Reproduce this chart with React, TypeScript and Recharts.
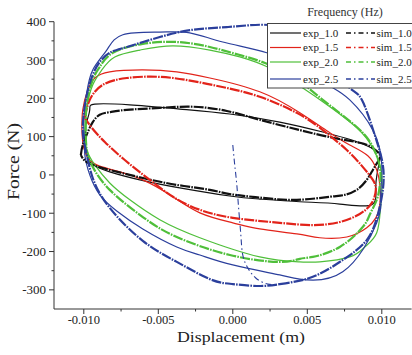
import React from "react";
import { ComposedChart, Line, XAxis, YAxis } from "recharts";

/** Loops: [displacement (m), force (N)] */
type Pt = [number, number];

const exp10: Pt[] = [
  [-0.00987, 131], [-0.0096, 170], [-0.00926, 185], [-0.00691, 183], [-0.00356, 172],
  [-0.0002, 159], [0.00315, 138], [0.00604, 112], [0.00852, 84], [0.00973, 60],
  [0.00987, 39], [0.0096, -26], [0.00933, -78], [0.00718, -76], [0.0045, -70],
  [0.00181, -63], [-0.0002, -55], [-0.00356, -34], [-0.00624, -13], [-0.00826, 8],
  [-0.00946, 29], [-0.00987, 65], [-0.00987, 131],
];
const sim10: Pt[] = [
  [-0.0102, 52], [-0.01007, 78], [-0.00973, 112], [-0.0094, 138], [-0.00893, 157],
  [-0.00826, 164], [-0.00711, 170], [-0.0049, 175], [-0.00268, 178], [-0.0004, 167],
  [0.00181, 144], [0.0045, 117], [0.00671, 97], [0.00852, 84], [0.0094, 70],
  [0.00987, 52], [0.00973, 34], [0.0094, 13], [0.00899, -13], [0.00832, -39],
  [0.00752, -52], [0.00651, -57], [0.0043, -65], [0.00201, -60], [-0.0002, -50],
  [-0.00154, -39], [-0.00376, -26], [-0.00604, -8], [-0.00826, 13], [-0.0094, 26],
  [-0.00993, 37], [-0.0102, 52],
];
const exp15: Pt[] = [
  [-0.01013, 117], [-0.01007, 170], [-0.00973, 222], [-0.00926, 253], [-0.00826, 269],
  [-0.00604, 274], [-0.00376, 269], [-0.00154, 253], [0.00181, 217], [0.0045, 162],
  [0.00651, 110], [0.00785, 78], [0.00906, 50], [0.00966, 13], [0.00987, -26],
  [0.00987, -78], [0.0096, -112], [0.00899, -138], [0.00765, -162], [0.00584, -164],
  [0.0043, -154], [0.00181, -141], [0, -125], [-0.00221, -99], [-0.00423, -52],
  [-0.00604, -13], [-0.00758, 8], [-0.00893, 23], [-0.0096, 39], [-0.01, 70],
  [-0.01013, 117],
];
const sim15: Pt[] = [
  [-0.00993, 149], [-0.0096, 196], [-0.00873, 235], [-0.00711, 253], [-0.0049, 256],
  [-0.00268, 245], [-0.0004, 227], [0.00181, 204], [0.0043, 162], [0.00604, 117],
  [0.00765, 65], [0.00872, 21], [0.0094, -13], [0.0096, -39], [0.00933, -73],
  [0.00852, -102], [0.00718, -123], [0.00537, -131], [0.00315, -125], [0, -112],
  [-0.00221, -91], [-0.00389, -60], [-0.00557, -13], [-0.00725, 39], [-0.00859, 86],
  [-0.00946, 123], [-0.00993, 149],
];
const exp20: Pt[] = [
  [-0.00993, 104], [-0.0098, 175], [-0.0094, 235], [-0.00879, 274], [-0.00792, 308],
  [-0.00624, 326], [-0.00403, 337], [-0.00154, 326], [0.00047, 308], [0.00248, 279],
  [0.0045, 232], [0.00651, 178], [0.00832, 123], [0.0094, 70], [0.01, 0],
  [0.00993, -78], [0.00966, -151], [0.00886, -188], [0.00785, -214], [0.00584, -227],
  [0.0045, -227], [0.00181, -214], [-0.00221, -164], [-0.0049, -117], [-0.00691, -65],
  [-0.00826, -21], [-0.00926, 26], [-0.0098, 65], [-0.00993, 104],
];
const sim20: Pt[] = [
  [-0.00987, 117], [-0.0098, 183], [-0.0094, 248], [-0.00893, 282], [-0.00805, 319],
  [-0.00604, 342], [-0.00376, 347], [-0.00154, 334], [0.00047, 313], [0.00248, 287],
  [0.0045, 243], [0.00604, 196], [0.00832, 125], [0.0094, 73], [0.00987, 21],
  [0.00987, -26], [0.00966, -65], [0.00919, -104], [0.00872, -136], [0.00718, -188],
  [0.00537, -214], [0.0045, -219], [0.00315, -227], [-0.0002, -209], [-0.00376, -162],
  [-0.00604, -110], [-0.00826, -39], [-0.0094, 21], [-0.0098, 65], [-0.00987, 117],
];
const exp25: Pt[] = [
  [-0.00993, 91], [-0.01, 144], [-0.0098, 214], [-0.0094, 274], [-0.00846, 326],
  [-0.00738, 366], [-0.0049, 373], [-0.00289, 371], [-0.00067, 347], [0.00228, 319],
  [0.0045, 279], [0.00651, 232], [0.00785, 196], [0.0094, 117], [0.01, 26],
  [0.00993, -52], [0.00966, -125], [0.00738, -253], [0.0045, -272], [0.00315, -261],
  [0, -235], [-0.00221, -209], [-0.00376, -188], [-0.00604, -141], [-0.00779, -94],
  [-0.00893, -52], [-0.0096, 0], [-0.00993, 52], [-0.00993, 91],
];
// start-up transient of the 2.5 Hz simulation, then its steady loop
const sim25Start: Pt[] = [
  [0, 78], [0.00013, 26], [0.00027, -26], [0.0004, -91], [0.00054, -157],
  [0.00067, -209], [0.00101, -243], [0.00154, -269], [0.00235, -285], [0.00315, -285],
];
const sim25: Pt[] = [
  [0.00315, -285], [0.00537, -266], [0.00738, -222], [0.00899, -170], [0.00973, -104],
  [0.01007, -39], [0.01007, 26], [0.00953, 104], [0.00866, 196], [0.00785, 227],
  [0.00651, 287], [0.00483, 352], [0.00349, 384], [0.00181, 392], [-0.0004, 386],
  [-0.00268, 379], [-0.0049, 360], [-0.00711, 334], [-0.00826, 319], [-0.00893, 295],
  [-0.0094, 261], [-0.00987, 196], [-0.01007, 117], [-0.00987, 65], [-0.0094, -8],
  [-0.00826, -86], [-0.00604, -172], [-0.00376, -227], [-0.00154, -272], [0, -285],
  [0.00181, -290], [0.00315, -285],
];

const FREQS = ["1.0", "1.5", "2.0", "2.5"];
const COLORS = ["#111111", "#e2231a", "#4fbf3a", "#2b3f9c"];
const EXP = [exp10, exp15, exp20, exp25];
const SIM = [sim10, sim15, sim20, sim25];

const X_TICKS = [-0.01, -0.0075, -0.005, -0.0025, 0, 0.0025, 0.005, 0.0075, 0.01];
const Y_TICKS = [-300, -250, -200, -150, -100, -50, 0, 50, 100, 150, 200, 250, 300, 350, 400];

const SERIF = "'Liberation Serif', 'Times New Roman', serif";
const AX = "#333";
const SIM_DASH = "10 1.2 1.6 1.2";

const rows = (pts: Pt[]) => pts.map(([x, f]) => ({ x, f }));

function YTick(props: any) {
  const { x, y, payload } = props;
  const v = payload.value as number;
  const major = v % 100 === 0;
  return (
    <g>
      <line x1={x} x2={x - (major ? 5 : 2.5)} y1={y} y2={y} stroke={AX} />
      {major && (
        <text x={x - 8} y={y} dy="0.35em" textAnchor="end" fontSize={13} fontFamily={SERIF} fill="#222">
          {v}
        </text>
      )}
    </g>
  );
}

function XTick(props: any) {
  const { x, y, payload } = props;
  const v = payload.value as number;
  const major = Math.abs(v * 200 - Math.round(v * 200)) < 1e-6;
  return (
    <g>
      <line x1={x} x2={x} y1={y} y2={y + (major ? 5 : 2.5)} stroke={AX} />
      {major && (
        <text x={x} y={y + 15} textAnchor="middle" fontSize={12.5} fontFamily={SERIF} fill="#222">
          {v.toFixed(3)}
        </text>
      )}
    </g>
  );
}

const LEG_Y = [33, 47.5, 62, 79];

export default function App() {
  return (
    <div style={{ position: "absolute", left: 0, top: 0, width: 412, height: 355, background: "#fff" }}>
      <ComposedChart width={412} height={355} margin={{ top: 21.7, right: 0.4, bottom: 0, left: 0 }}>
        <XAxis
          dataKey="x"
          type="number"
          domain={[-0.012, 0.012]}
          ticks={X_TICKS}
          interval={0}
          allowDataOverflow
          height={46}
          tickSize={0}
          tickMargin={0}
          tickLine={false}
          axisLine={{ stroke: AX }}
          tick={XTick}
        />
        <YAxis
          type="number"
          domain={[-350, 400]}
          ticks={Y_TICKS}
          interval={0}
          allowDataOverflow
          width={54}
          tickSize={0}
          tickMargin={0}
          tickLine={false}
          axisLine={{ stroke: AX }}
          tick={YTick}
        />
        {EXP.map((pts, i) => (
          <Line
            key={"exp" + i}
            data={rows(pts)}
            dataKey="f"
            type="natural"
            stroke={COLORS[i]}
            strokeWidth={1.2}
            dot={false}
            isAnimationActive={false}
          />
        ))}
        {SIM.map((pts, i) => (
          <Line
            key={"sim" + i}
            data={rows(pts)}
            dataKey="f"
            type="natural"
            stroke={COLORS[i]}
            strokeWidth={2.2}
            strokeDasharray={SIM_DASH}
            dot={false}
            isAnimationActive={false}
          />
        ))}
        <Line
          data={rows(sim25Start)}
          dataKey="f"
          type="natural"
          stroke={COLORS[3]}
          strokeWidth={1.1}
          strokeDasharray="6 3 1.5 3"
          dot={false}
          isAnimationActive={false}
        />
      </ComposedChart>

      {/* axis titles + legend */}
      <svg width={412} height={355} style={{ position: "absolute", left: 0, top: 0, pointerEvents: "none" }}>
        <text x={241} y={341.5} textAnchor="middle" fontSize={15} fontFamily={SERIF} fill="#222" textLength={128} lengthAdjust="spacingAndGlyphs">
          Displacement (m)
        </text>
        <text
          transform="translate(18.5,161.5) rotate(-90)"
          textAnchor="middle"
          fontSize={16}
          fontFamily={SERIF}
          fill="#222"
          textLength={77}
          lengthAdjust="spacingAndGlyphs"
        >
          Force  (N)
        </text>
        <text x={345} y={15.5} textAnchor="middle" fontSize={12} fontFamily={SERIF} fill="#333">
          Frequency  (Hz)
        </text>
        <rect x={267.5} y={23.5} width={150} height={64.5} fill="#fff" stroke="#444" />
        {FREQS.map((f, i) => (
          <g key={f}>
            <line x1={270} x2={301} y1={LEG_Y[i]} y2={LEG_Y[i]} stroke={COLORS[i]} strokeWidth={1.2} />
            <text x={303} y={LEG_Y[i]} dy="0.35em" fontSize={11} fontFamily={SERIF} fill="#222">
              {"exp_" + f}
            </text>
            <line x1={346} x2={375} y1={LEG_Y[i]} y2={LEG_Y[i]} stroke={COLORS[i]} strokeWidth={1.4} strokeDasharray="5 3 1.5 3" />
            <text x={376.5} y={LEG_Y[i]} dy="0.35em" fontSize={11} fontFamily={SERIF} fill="#222">
              {"sim_" + f}
            </text>
          </g>
        ))}
      </svg>
    </div>
  );
}
